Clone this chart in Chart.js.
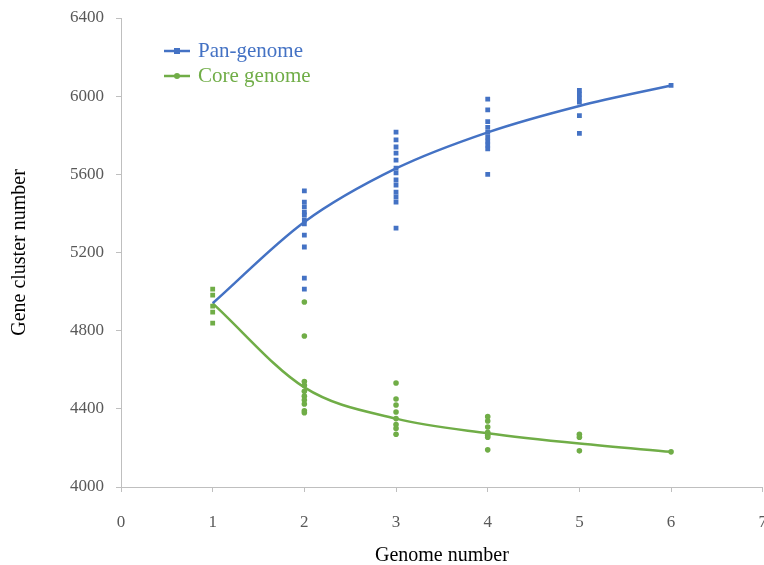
<!DOCTYPE html>
<html>
<head>
<meta charset="utf-8">
<script src="https://cdn.jsdelivr.net/npm/chart.js@4"></script>
<style>
  html, body { margin: 0; padding: 0; background: #fff; overflow: hidden; }
  #wrap { width: 787px; height: 568px; }
</style>
</head>
<body>
<div id="wrap"><canvas id="c" width="787" height="568"></canvas></div>
<script>
// genome counts on the x axis
const genomes = [1, 2, 3, 4, 5, 6];
const xTicks = [0, 1, 2, 3, 4, 5, 6, 7];
const yTicks = [4000, 4400, 4800, 5200, 5600, 6000, 6400];

// fitted curves
const panMean = [4940, 5356, 5630, 5815, 5950, 6055];
const coreMean = [4940, 4510, 4350, 4275, 4222, 4180];

// single genome values (shared by pan and core)
const firstGenome = [5013, 4982, 4926, 4895, 4839];

// sampled combinations, one list per genome number (2..6)
const panSamples = [
  [5515, 5458, 5433, 5407, 5392, 5366, 5346, 5289, 5228, 5069, 5013],
  [5816, 5776, 5740, 5709, 5673, 5632, 5607, 5571, 5545, 5509, 5484, 5458, 5325],
  [5985, 5930, 5870, 5840, 5815, 5790, 5770, 5750, 5730, 5600],
  [6030, 6010, 5990, 5970, 5900, 5810],
  [6055]
];
const coreSamples = [
  [4947, 4773, 4540, 4520, 4490, 4465, 4445, 4425, 4390, 4380],
  [4532, 4450, 4420, 4384, 4350, 4320, 4300, 4270],
  [4360, 4338, 4307, 4280, 4265, 4255, 4190],
  [4270, 4255, 4185],
  [4180]
];

const BLUE = '#4472C4';
const GREEN = '#70AD47';
const FONT = "'Liberation Serif', 'Times New Roman', serif";

function toPoints(lists) {
  const pts = [];
  lists.forEach((vals, i) => vals.forEach(v => pts.push({ x: genomes[i + 1], y: v })));
  return pts;
}

const legendPlugin = {
  id: 'insideLegend',
  afterDraw(chart) {
    const { ctx } = chart;
    const items = [
      { text: 'Pan-genome', color: BLUE, style: 'rect', y: 51 },
      { text: 'Core genome', color: GREEN, style: 'circle', y: 76 }
    ];
    ctx.save();
    items.forEach(it => {
      ctx.strokeStyle = it.color;
      ctx.fillStyle = it.color;
      ctx.lineWidth = 2.5;
      ctx.beginPath();
      ctx.moveTo(164, it.y);
      ctx.lineTo(190, it.y);
      ctx.stroke();
      ctx.beginPath();
      if (it.style === 'rect') ctx.rect(174, it.y - 3, 6, 6);
      else ctx.arc(177, it.y, 3, 0, Math.PI * 2);
      ctx.fill();
      ctx.font = '21px ' + FONT;
      ctx.textBaseline = 'middle';
      ctx.fillText(it.text, 198, it.y);
    });
    ctx.restore();
  }
};

new Chart(document.getElementById('c'), {
  type: 'scatter',
  data: {
    datasets: [
      { label: 'Pan-genome', type: 'line', data: genomes.map((g, i) => ({ x: g, y: panMean[i] })),
        borderColor: BLUE, borderWidth: 2.5, pointRadius: 0, cubicInterpolationMode: 'monotone', order: 2 },
      { label: 'Core genome', type: 'line', data: genomes.map((g, i) => ({ x: g, y: coreMean[i] })),
        borderColor: GREEN, borderWidth: 2.5, pointRadius: 0, cubicInterpolationMode: 'monotone', order: 2 },
      { label: 'pan samples', data: toPoints(panSamples), pointStyle: 'rect', pointRadius: 3.4,
        backgroundColor: BLUE, borderWidth: 0, order: 1 },
      { label: 'core samples', data: toPoints(coreSamples), pointStyle: 'circle', pointRadius: 2.8,
        backgroundColor: GREEN, borderWidth: 0, order: 1 },
      { label: 'single', data: firstGenome.map(v => ({ x: genomes[0], y: v })), pointStyle: 'rect', pointRadius: 3.4,
        backgroundColor: GREEN, borderWidth: 0, order: 1 }
    ]
  },
  options: {
    responsive: false,
    animation: false,
    layout: { padding: { top: 18, right: 8, left: 4, bottom: 0 } },
    plugins: { legend: { display: false }, tooltip: { enabled: false } },
    scales: {
      x: {
        type: 'linear', min: 0, max: 7,
        afterBuildTicks: s => { s.ticks = xTicks.map(v => ({ value: v })); },
        afterFit: s => { s.height = 81; },
        grid: { drawOnChartArea: false, drawTicks: true, tickLength: 5, color: '#bfbfbf' },
        border: { color: '#bfbfbf', width: 1 },
        ticks: { color: '#595959', font: { family: FONT, size: 17 }, padding: 20, callback: v => String(v) },
        title: { display: true, text: 'Genome number', color: '#000', font: { family: FONT, size: 20 }, padding: { top: 0, bottom: 0 } }
      },
      y: {
        min: 4000, max: 6400,
        afterBuildTicks: s => { s.ticks = yTicks.map(v => ({ value: v })); },
        afterFit: s => { s.width = 117; s.paddingTop = 0; },
        grid: { drawOnChartArea: false, drawTicks: true, tickLength: 5, color: '#bfbfbf' },
        border: { color: '#bfbfbf', width: 1 },
        ticks: { color: '#595959', font: { family: FONT, size: 17 }, padding: 12, callback: v => String(v) },
        title: { display: true, text: 'Gene cluster number', color: '#000', font: { family: FONT, size: 20 }, padding: { bottom: 4 } }
      }
    }
  },
  plugins: [legendPlugin]
});
</script>
</body>
</html>
